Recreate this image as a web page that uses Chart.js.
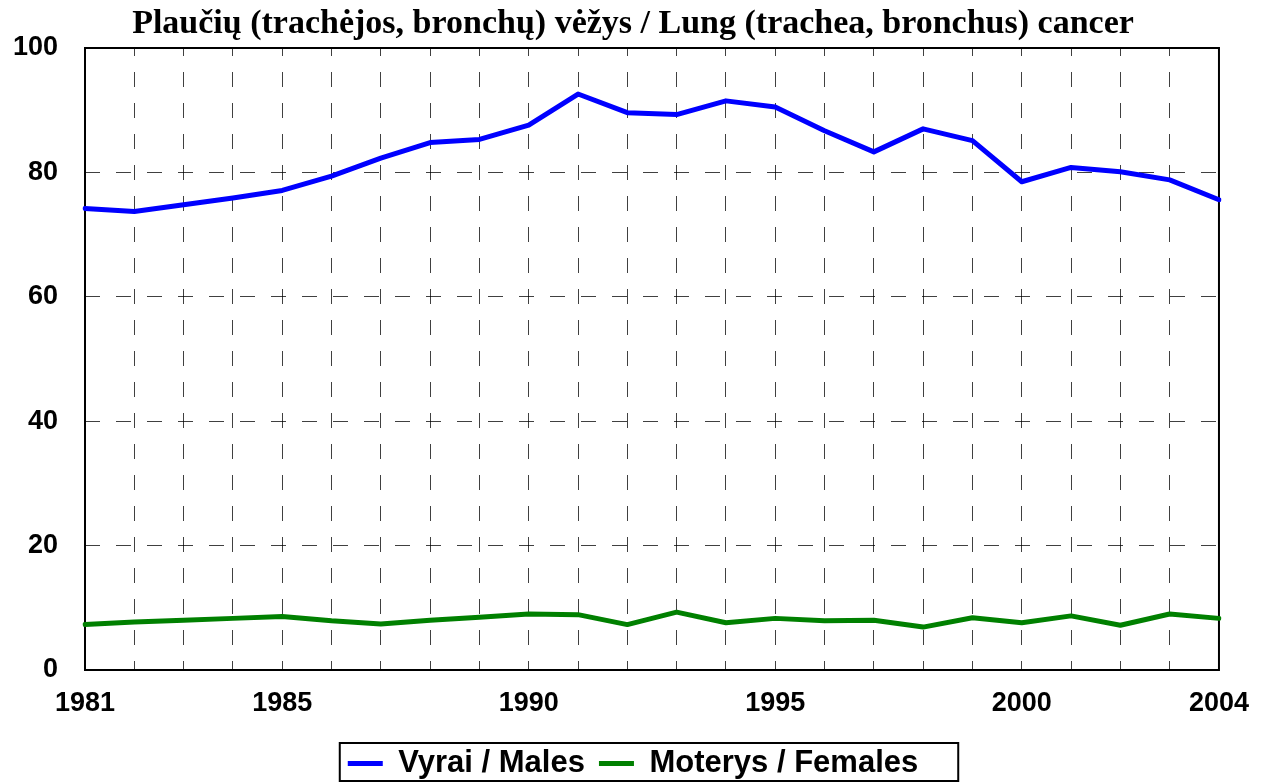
<!DOCTYPE html>
<html>
<head>
<meta charset="utf-8">
<script src="https://cdn.jsdelivr.net/npm/chart.js@4"></script>
<style>
  html, body { margin: 0; padding: 0; background: #fff; }
  #wrap { width: 1266px; height: 782px; position: relative; }
</style>
</head>
<body>
<div id="wrap"><canvas id="myChart"></canvas></div>
<script>
// duomenys / data
const years = ['1981','1982','1983','1984','1985','1986','1987','1988','1989','1990','1991','1992',
               '1993','1994','1995','1996','1997','1998','1999','2000','2001','2002','2003','2004'];
const shownYears = ['1981','1985','1990','1995','2000','2004'];
const males = [74.2, 73.7, 74.8, 75.9, 77.1, 79.4, 82.3, 84.8, 85.3, 87.6, 92.6, 89.6,
               89.3, 91.5, 90.5, 86.7, 83.3, 87.0, 85.1, 78.5, 80.8, 80.1, 78.8, 75.6];
const females = [7.3, 7.7, 8.0, 8.3, 8.6, 7.9, 7.4, 8.0, 8.5, 9.0, 8.9, 7.3,
                 9.3, 7.6, 8.3, 7.9, 8.0, 6.9, 8.4, 7.6, 8.7, 7.2, 9.0, 8.3];
const yTicks = [0, 20, 40, 60, 80, 100];

const TITLE = 'Plaučių (trachėjos, bronchų) vėžys / Lung (trachea, bronchus) cancer';
const LABEL_M = 'Vyrai / Males';
const LABEL_F = 'Moterys / Females';

const AXIS_FONT = { family: '"Liberation Sans", Arial, sans-serif', size: 27, weight: 'bold' };

// remelis aplink braizymo sriti
const framePlugin = {
    id: 'frame',
    beforeDatasetsDraw(chart) {
        const a = chart.chartArea;
        const ctx = chart.ctx;
        ctx.save();
        ctx.strokeStyle = '#000';
        ctx.lineWidth = 2;
        ctx.setLineDash([]);
        ctx.strokeRect(a.left, a.top, a.right - a.left, a.bottom - a.top);
        ctx.restore();
    }
};

// remelis aplink legenda
const legendBoxPlugin = {
    id: 'legendBox',
    afterDraw(chart) {
        const boxes = chart.legend && chart.legend.legendHitBoxes;
        if (!boxes || !boxes.length) return;
        let l = Infinity, r = -Infinity, t = Infinity;
        boxes.forEach(b => {
            l = Math.min(l, b.left);
            r = Math.max(r, b.left + b.width);
            t = Math.min(t, b.top);
        });
        const ctx = chart.ctx;
        ctx.save();
        ctx.strokeStyle = '#000';
        ctx.lineWidth = 2;
        ctx.setLineDash([]);
        ctx.strokeRect(l - 8, t - 5, (r - l) + 48, chart.height - (t - 5) - 1);
        ctx.restore();
    }
};

const chart = document.getElementById('myChart');

new Chart(chart, {
    type: 'line',
    data: {
        labels: years,
        datasets: [{
            label: LABEL_M,
            data: males,
            borderColor: '#0000ff',
            backgroundColor: '#0000ff',
            borderWidth: 5,
            borderCapStyle: 'round',
            borderJoinStyle: 'round',
            pointRadius: 0,
            tension: 0
        }, {
            label: LABEL_F,
            data: females,
            borderColor: '#008000',
            backgroundColor: '#008000',
            borderWidth: 5,
            borderCapStyle: 'round',
            borderJoinStyle: 'round',
            pointRadius: 0,
            tension: 0
        }]
    },
    options: {
        responsive: true,
        maintainAspectRatio: false,
        animation: false,
        layout: { padding: { left: 0, right: 0, top: 0, bottom: -7 } },
        plugins: {
            title: {
                display: true,
                text: TITLE,
                color: '#000',
                font: { family: '"Liberation Serif", "Times New Roman", serif', size: 34, weight: 'bold' },
                padding: { top: 3.8, bottom: 3.4 }
            },
            legend: {
                position: 'bottom',
                labels: {
                    color: '#000',
                    font: { family: '"Liberation Sans", Arial, sans-serif', size: 31, weight: 'bold' },
                    usePointStyle: true,
                    pointStyle: 'line',
                    pointStyleWidth: 35,
                    padding: 14
                }
            },
            tooltip: { enabled: false }
        },
        scales: {
            x: {
                type: 'category',
                offset: false,
                grid: {
                    color: 'rgba(0,0,0,0.75)',
                    lineWidth: 1,
                    drawTicks: false
                },
                border: { display: false, dash: [15, 16], dashOffset: 7 },
                ticks: {
                    color: '#000',
                    font: AXIS_FONT,
                    autoSkip: false,
                    maxRotation: 0,
                    padding: 17,
                    callback(value, index) {
                        const y = years[index];
                        return shownYears.includes(y) ? y : '';
                    }
                },
                afterFit(scale) { scale.height = 64; }
            },
            y: {
                min: 0,
                max: 100,
                grid: {
                    color: 'rgba(0,0,0,0.75)',
                    lineWidth: 1,
                    drawTicks: false
                },
                border: { display: false, dash: [15, 16], dashOffset: 0 },
                afterBuildTicks(scale) {
                    scale.ticks = yTicks.map(v => ({ value: v }));
                },
                ticks: {
                    color: '#000',
                    font: AXIS_FONT,
                    padding: 27
                },
                afterFit(scale) { scale.width = 85; }
            },
            // tuscia desine asis - tik vietai
            yRight: {
                type: 'linear',
                position: 'right',
                min: 0,
                max: 100,
                grid: { display: false, drawOnChartArea: false },
                border: { display: false },
                ticks: { display: false },
                afterFit(scale) { scale.width = 46; }
            }
        }
    },
    plugins: [framePlugin, legendBoxPlugin]
});
</script>
</body>
</html>
